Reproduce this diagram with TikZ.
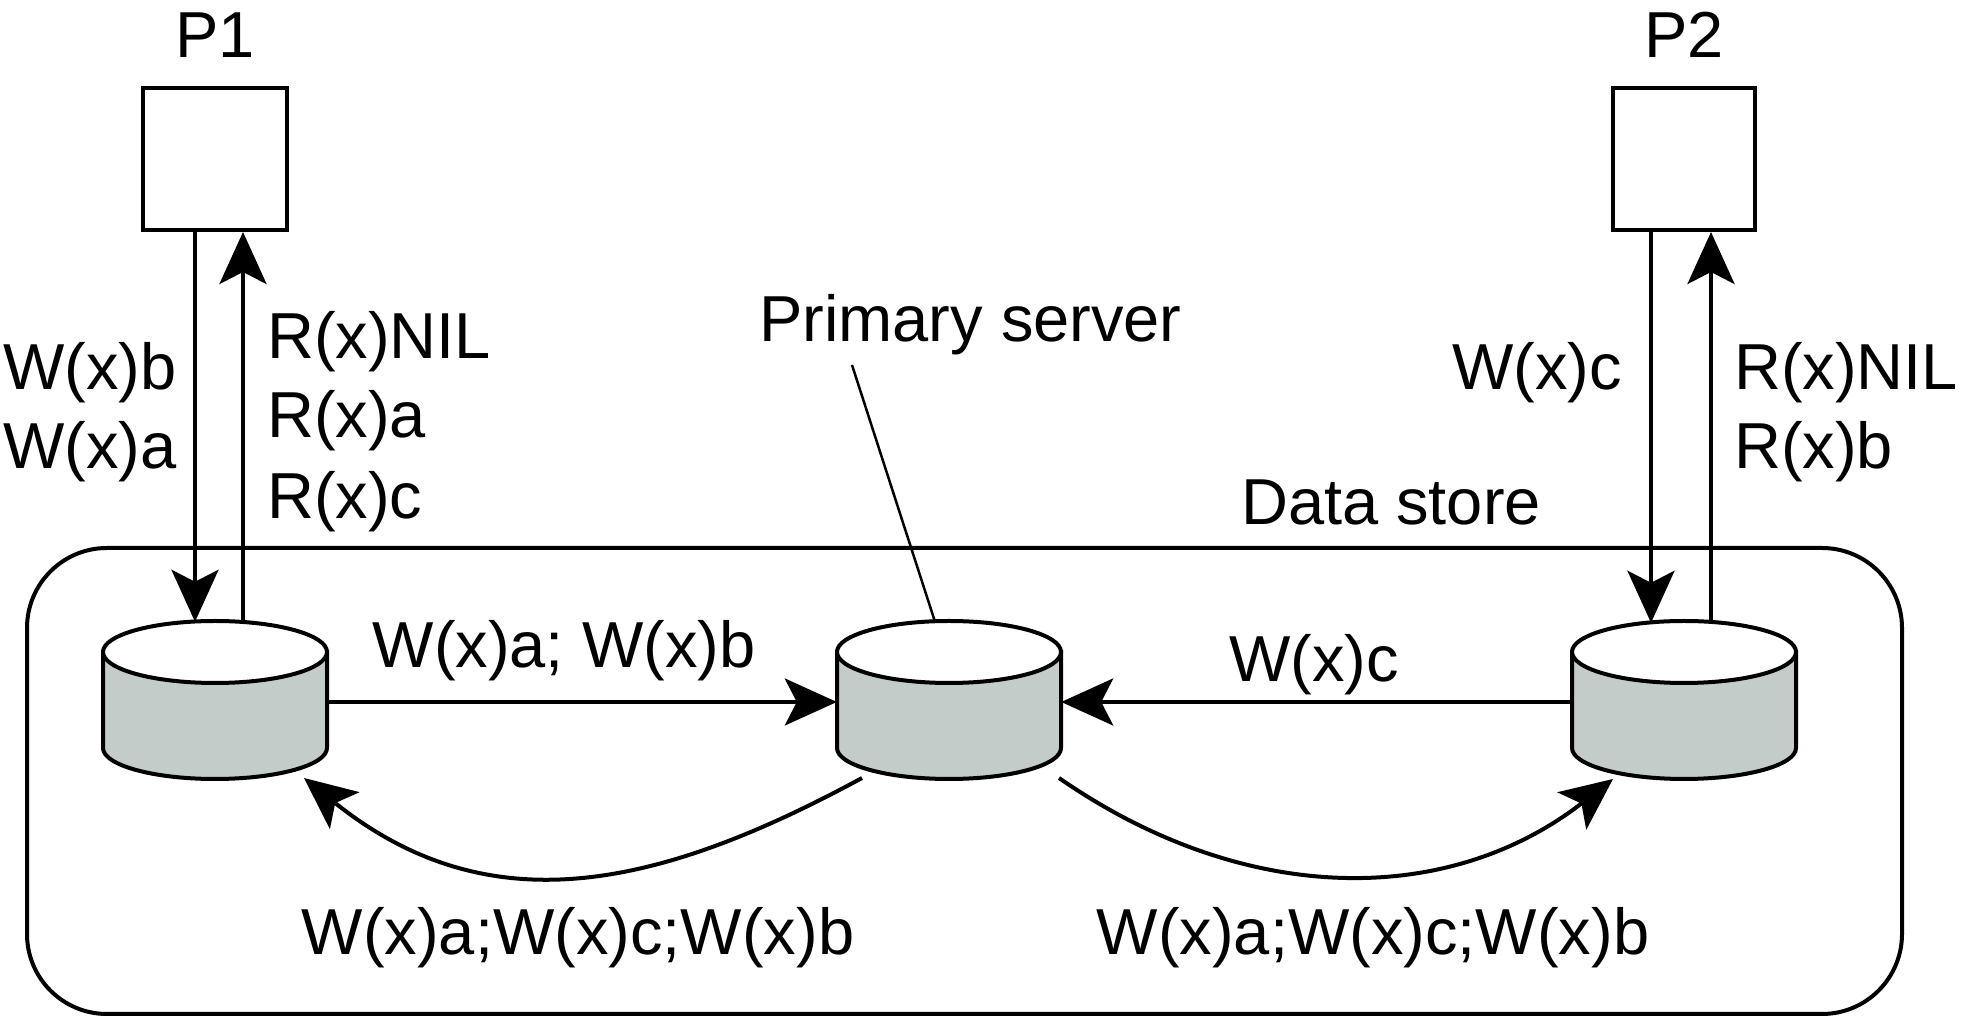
\documentclass[tikz,border=0pt]{standalone}
\usepackage{fontspec}
\setmainfont{Liberation Sans}
\usetikzlibrary{arrows.meta}
\definecolor{cylgray}{RGB}{196,204,202}
\newcommand{\cylshape}[2]{%
  \node[cylbox] (#1) at (#2,319) {};
  \filldraw[line width=4pt, fill=cylgray] (#2-112,367) -- (#2-112,271)
    arc[start angle=180, end angle=360, x radius=112pt, y radius=31pt] -- (#2+112,367) -- cycle;
  \filldraw[line width=4pt, fill=white] (#2,367) ellipse[x radius=112pt, y radius=31pt];
}
\begin{document}
\begin{tikzpicture}[x=1pt,y=1pt,
  lbl/.style={inner sep=0pt, font=\fontsize{65}{78}\selectfont},
  proc/.style={draw, line width=4pt, minimum width=144pt, minimum height=142pt, inner sep=0pt},
  conn/.style={line width=4pt, -{Stealth[length=52pt,width=47pt,inset=12pt]}},
  cylbox/.style={minimum width=224pt, minimum height=158pt, inner sep=0pt},
  pointer/.style={line width=2.5pt},
  store/.style={draw, line width=4pt, rounded corners=80pt, minimum width=1875pt, minimum height=466pt, inner sep=0pt}
]
\useasboundingbox (0,0) rectangle (1971,1019);

% data store container
\node[store] (ds) at (964.5,238) {};
\node[lbl, anchor=base] (dslbl) at (1391,494) {Data store};

% processes
\node[lbl, anchor=base] (p1lbl) at (215,961) {P1};
\node[lbl, anchor=base] (p2lbl) at (1684,961) {P2};
\node[proc] (p1) at (215,860) {};
\node[proc, minimum width=142pt] (p2) at (1684,860) {};

% replicas
\cylshape{lc}{215}
\cylshape{mc}{949}
\cylshape{rc}{1684}

% client arrows
\draw[conn] ([xshift=-20pt]p1.south) -- ([xshift=-20pt,yshift=-1pt]lc.north);
\draw[conn] ([xshift=28pt,yshift=-1pt]lc.north) -- ([xshift=28pt]p1.south);
\draw[conn] ([xshift=-33pt]p2.south) -- ([xshift=-33pt,yshift=-2pt]rc.north);
\draw[conn] ([xshift=27pt,yshift=-1pt]rc.north) -- ([xshift=27pt]p2.south);

\node[lbl, anchor=base west] (w1b) at (3,629) {W(x)b};
\node[lbl, anchor=base west] (w1a) at (3,550) {W(x)a};
\node[lbl, anchor=base west] (r1n) at (267,660) {R(x)NIL};
\node[lbl, anchor=base west] (r1a) at (267,581) {R(x)a};
\node[lbl, anchor=base west] (r1c) at (267,500) {R(x)c};
\node[lbl, anchor=base east] (w2c) at (1622,629) {W(x)c};
\node[lbl, anchor=base west] (r2n) at (1734,629) {R(x)NIL};
\node[lbl, anchor=base west] (r2b) at (1734,550) {R(x)b};

% forwarding to primary
\draw[conn] ([yshift=-2pt]lc.east) -- ([yshift=-2pt]mc.west);
\draw[conn] ([yshift=-2pt]rc.west) -- ([yshift=-2pt]mc.east);
\node[lbl, anchor=base] (hab) at (564,351) {W(x)a; W(x)b};
\node[lbl, anchor=base] (hc) at (1314,337) {W(x)c};

% propagation from primary
\coordinate (c1s) at (862,241);
\coordinate (c1e) at (304,241);
\coordinate (c2s) at (1059,241);
\coordinate (c2e) at (1613,240);
\draw[conn] (c1s) .. controls (652,127) and (486,95) .. (c1e);
\draw[conn] (c2s) .. controls (1245,112) and (1448,112) .. (c2e);
\node[lbl, anchor=base] (b1) at (578,64) {W(x)a;W(x)c;W(x)b};
\node[lbl, anchor=base] (b2) at (1373,64) {W(x)a;W(x)c;W(x)b};

% primary server label
\node[lbl, anchor=base west] (ps) at (759,677) {Primary server};
\coordinate (pstop) at (852,654);
\draw[pointer] (pstop) -- ([xshift=-14pt,yshift=-1pt]mc.north);
\end{tikzpicture}
\end{document}
